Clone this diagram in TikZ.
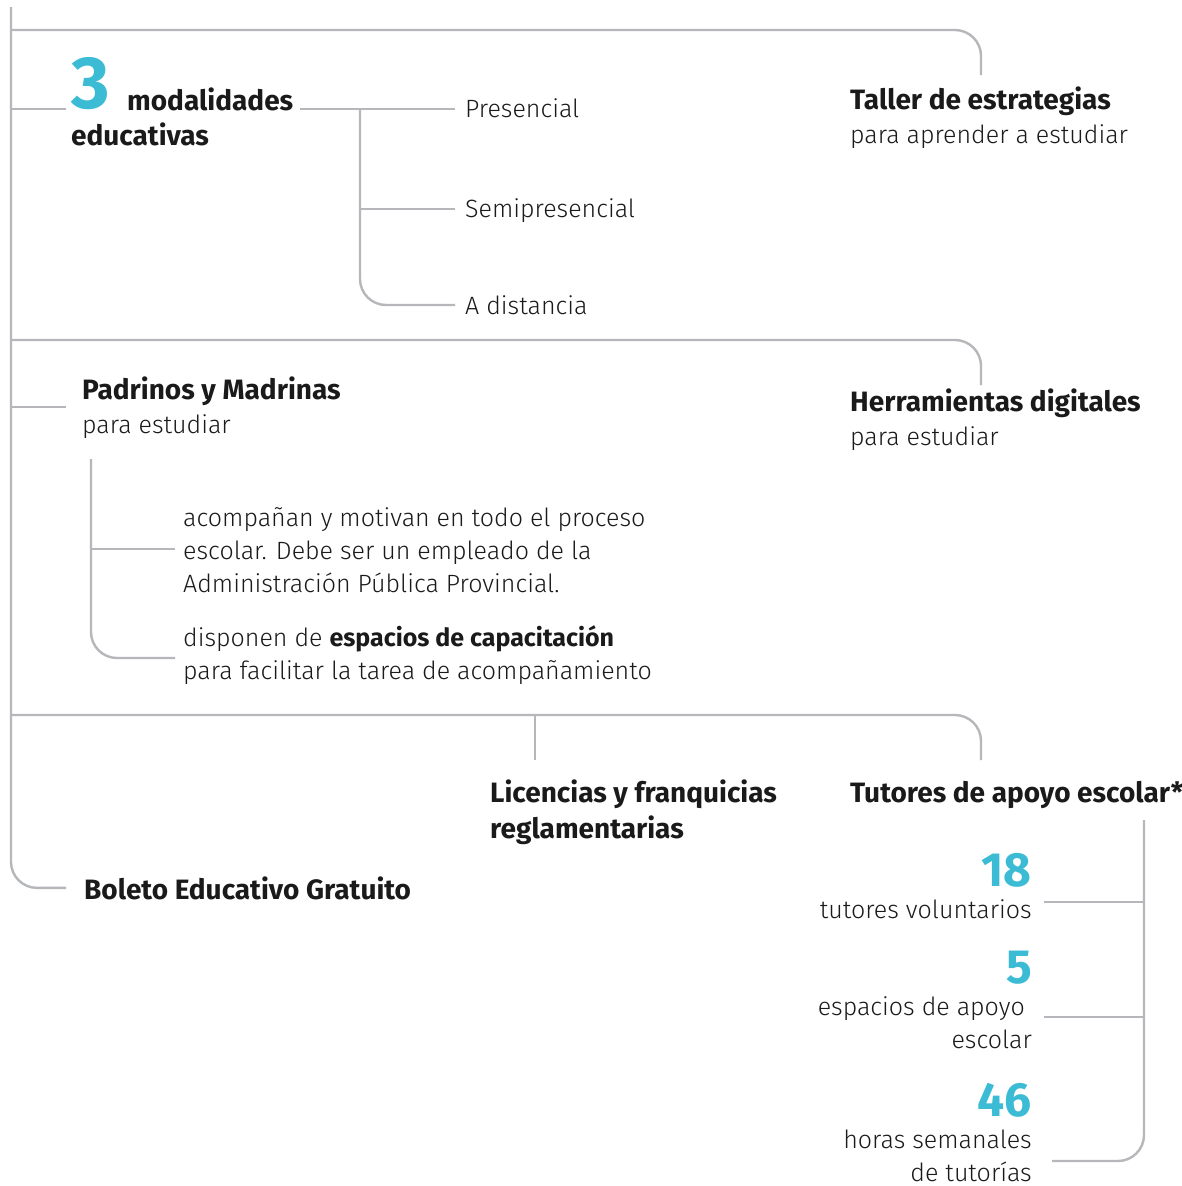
\documentclass[tikz,border=0pt]{standalone}
\usepackage{fontspec}
\setmainfont{Fira Sans}[UprightFont=* Light, BoldFont=* Bold]
\definecolor{ln}{HTML}{B5B7BA}
\definecolor{cy}{HTML}{3BBCD4}
\definecolor{tx}{HTML}{1A1A1A}
\newcommand\stackL[1]{\vtop{\halign{##\hfil\cr#1\crcr}}}
\newcommand\stackR[1]{\vtop{\halign{\hfil##\cr#1\crcr}}}
\newcommand\subln{\mdseries\fontsize{25}{33}\selectfont}
\tikzset{
  conn/.style={draw=ln, line width=2.4pt, rounded corners=26pt},
  txt/.style={inner sep=0pt, anchor=base west, text=tx, font=\fontsize{25}{33.3}\selectfont},
  txtr/.style={txt, anchor=base east},
  head/.style={txt, font=\fontsize{28}{34}\selectfont\bfseries},
  bignum/.style={inner sep=0pt, anchor=base east, text=cy, font=\fontsize{48}{48}\selectfont\bfseries}
}
\begin{document}
\begin{tikzpicture}[x=1pt,y=-1pt]
\useasboundingbox[fill=white] (0,0) rectangle (1182,1186);

% --- nodes ---
\node[bignum, anchor=base west, font=\fontsize{74}{74}\selectfont\bfseries] (three) at (71,108) {3};
\node[head] (moda) at (127,110) {modalidades};
\node[head] (educ) at (71,145) {educativas};
\node[txt] (pres) at (465,117) {Presencial};
\node[txt] (semi) at (465,217) {Semipresencial};
\node[txt] (dist) at (465,314) {A distancia};

\node[head] (taller) at (850,109) {\stackL{Taller de estrategias\cr\subln para aprender a estudiar}};
\node[head] (padr) at (82,399) {\stackL{Padrinos y Madrinas\cr\subln para estudiar}};
\node[head] (herr) at (850,411) {\stackL{Herramientas digitales\cr\subln para estudiar}};

\node[txt] (acomp) at (183,526) {\stackL{acompañan y motivan en todo el proceso\cr escolar. Debe ser un empleado de la\cr Administración Pública Provincial.}};
\node[txt] (disp) at (183,646) {\stackL{disponen de \textbf{espacios de capacitación}\cr para facilitar la tarea de acompañamiento}};

\node[head, font=\fontsize{28}{36}\selectfont\bfseries] (lic) at (490,802) {\stackL{Licencias y franquicias\cr reglamentarias}};
\node[head] (tut) at (850,802) {Tutores de apoyo escolar*};
\node[head] (bol) at (84,899) {Boleto Educativo Gratuito};

\node[bignum] (n18) at (1032,886) {18};
\node[txtr] (t18) at (1032,918) {tutores voluntarios};
\node[bignum] (n5) at (1032,983) {5};
\node[txtr] (t5) at (1032,1015) {\stackR{espacios de apoyo\ \cr escolar}};
\node[bignum] (n46) at (1032,1116) {46};
\node[txtr] (t46) at (1032,1148) {\stackR{horas semanales\cr de tutorías}};

% --- junction coordinates ---
\coordinate (top) at (11,7);
\coordinate (jA) at (11,30);
\coordinate (jB) at (11,109);
\coordinate (jC) at (11,340);
\coordinate (jD) at (11,407);
\coordinate (jE) at (11,715);
\coordinate (jF) at (535,715);
\coordinate (mx) at (360,109);
\coordinate (pdx) at (91,459);
\coordinate (tvx) at (1144,820);

% --- connectors ---
\draw[conn] (top) |- (bol.west -| 66,889);
\draw[conn] (jA) -| (981,75);
\draw[conn] (jB) -- (66,109);
\draw[conn] (300,109) -- (455,109);
\draw[conn] (mx) |- (455,305);
\draw[conn] (360,209) -- (455,209);
\draw[conn] (jC) -| (981,385);
\draw[conn] (jD) -- (66,407);
\draw[conn] (pdx) |- (175,658);
\draw[conn] (91,549) -- (175,549);
\draw[conn] (jE) -| (981,760);
\draw[conn] (jF) -- (535,760);
\draw[conn] (tvx) |- (1052,1161);
\draw[conn] (1044,902) -- (1144,902);
\draw[conn] (1044,1017) -- (1144,1017);
\end{tikzpicture}
\end{document}
